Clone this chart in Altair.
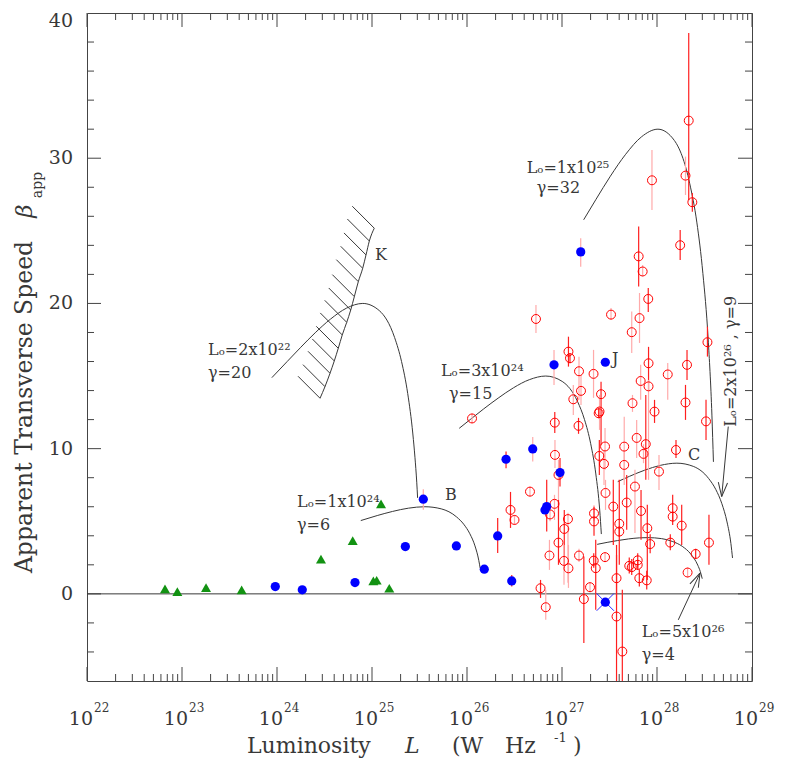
import altair as alt
import pandas as pd

# ------------------------------------------------------------------ data
# red open circles: log10 L, beta_app, error bar low / high, bar style
red_logL = [28.334, 27.947, 28.300, 28.372, 28.244, 27.807, 27.849, 27.908, 27.516, 26.726,
            27.816, 27.734, 28.531, 27.068, 27.084, 27.179, 27.332, 27.911, 28.113, 28.316,
            27.828, 27.911, 27.200, 27.411, 27.119, 27.742, 28.300, 27.974, 27.395, 27.386,
            28.516, 26.924, 27.174, 26.053, 27.786, 27.453, 27.882, 27.655, 28.200, 27.393,
            27.858, 26.926, 27.442, 27.655, 26.963, 28.021, 26.663, 27.768, 27.458, 27.540,
            27.681, 27.832, 28.165, 28.165, 28.260, 26.458, 26.500, 26.921, 26.874, 27.063,
            27.024, 27.337, 27.337, 27.603, 27.603, 27.898, 27.928, 28.140, 28.547, 28.407,
            26.963, 26.868, 27.179, 27.453, 27.334, 27.355, 27.021, 27.068, 27.708, 27.797,
            27.797, 27.734, 27.814, 27.892, 27.574, 28.322, 26.774, 27.295, 26.829, 27.230,
            27.574, 27.635]
red_beta = [32.59, 28.48, 28.80, 26.97, 24.01, 23.24, 22.20, 20.31, 19.23, 18.93,
            18.99, 18.02, 17.33, 16.68, 16.23, 15.33, 15.15, 15.88, 15.11, 15.77,
            14.66, 14.29, 13.98, 13.75, 13.40, 13.13, 13.18, 12.55, 12.56, 12.44,
            11.88, 11.79, 11.57, 12.08, 10.74, 10.15, 10.31, 10.14, 9.91, 9.50,
            9.64, 9.57, 8.95, 8.88, 8.19, 8.42, 7.04, 7.39, 6.95, 6.01,
            6.29, 5.71, 5.90, 5.32, 4.70, 5.78, 5.09, 6.20, 5.47, 5.15,
            4.47, 5.54, 4.99, 4.83, 4.29, 4.52, 3.43, 3.53, 3.53, 2.75,
            3.53, 2.64, 2.64, 2.53, 2.29, 1.77, 2.27, 1.76, 1.93, 2.31,
            2.00, 1.84, 1.08, 0.93, 1.08, 1.47, 0.39, 0.46, -0.92, -0.36,
            -1.56, -3.97]
red_lo = [27.10, 26.44, 27.47, 26.32, 22.99, 21.16, 21.85, 19.41, 18.86, 17.97,
          17.28, 16.59, 16.34, 15.65, 15.88, 13.36, 13.50, 14.04, 13.36, 14.73,
          13.36, 7.85, 13.01, 10.26, 12.32, 12.53, 11.98, 11.77, 11.29, 12.09,
          10.60, 11.08, 11.02, 11.73, 9.36, 8.54, 7.85, 7.85, 9.36, 8.19,
          9.00, 8.67, 7.50, 7.50, 5.09, 7.16, 6.69, 4.20, 5.78, 3.37,
          4.41, 3.72, 4.75, 4.97, 3.37, 4.54, 4.74, 5.09, 5.00, 0.76,
          2.00, 5.00, 4.00, 2.00, 3.94, 0.96, 2.80, 3.00, 2.00, 2.40,
          2.00, 1.65, 2.20, 2.18, 1.80, -1.10, 0.62, 0.41, 1.40, 1.80,
          1.65, 1.30, 0.50, 0.30, -0.41, 1.12, -0.28, 0.11, -1.79, -3.39,
          -6.00, -6.00]
red_hi = [38.62, 30.57, 30.11, 27.61, 25.06, 25.29, 22.65, 21.07, 19.69, 19.90,
          20.72, 19.44, 18.40, 17.71, 16.58, 16.32, 16.80, 17.01, 15.90, 16.80,
          15.77, 14.73, 15.08, 14.60, 14.39, 13.70, 14.39, 13.36, 13.70, 12.79,
          13.36, 12.53, 12.12, 12.43, 11.98, 11.43, 13.70, 12.19, 10.60, 10.60,
          10.30, 10.60, 9.91, 9.91, 9.23, 9.57, 7.39, 8.54, 7.85, 7.85,
          8.19, 7.16, 6.82, 5.67, 6.13, 7.02, 5.44, 6.82, 6.00, 5.58,
          5.78, 6.10, 6.00, 7.85, 4.64, 6.13, 4.10, 4.10, 5.44, 3.10,
          6.47, 3.72, 3.10, 2.88, 2.80, 3.72, 3.37, 3.37, 2.50, 2.80,
          2.35, 2.40, 1.70, 1.60, 3.37, 1.82, 0.96, 0.81, 0.28, 2.57,
          2.69, 0.28]
red_bar = list("dlldddldll" "lldddlldld" "llldlldd" "ld" "dddllldldd"
               "llllllllld" "dddddd" "llll" "dldddddddd" "dlllddlldd"
               "dddddldlld" "dd")

# blue filled circles
blue_logL = [23.982, 24.266, 24.821, 25.351, 25.540, 25.888, 26.182, 26.323, 26.411,
             26.471, 26.692, 26.821, 26.839, 26.979, 26.916, 27.456, 27.197]
blue_beta = [0.50, 0.28, 0.78, 3.26, 6.52, 3.30, 1.70, 3.99, 9.27,
             0.89, 9.98, 5.78, 6.01, 8.35, 15.77, 15.95, 23.55]
blue_lo = [0.50, 0.28, 0.78, 3.26, 5.80, 3.30, 1.70, 2.82, 8.65,
           0.50, 9.11, 5.78, 4.29, 7.39, 14.39, 15.95, 22.53]
blue_hi = [0.50, 0.28, 0.78, 3.26, 7.20, 3.30, 1.70, 5.23, 9.80,
           1.30, 10.81, 5.78, 7.85, 9.36, 16.80, 15.95, 24.49]
blue_bar = list("lllllllddd" "ldddlll")
cross_logL = [27.456]
cross_beta = [-0.57]

# green triangles
green_logL = [22.821, 22.951, 23.253, 23.628, 24.463, 24.797, 25.014, 25.049, 25.095, 25.182]
green_beta = [0.34, 0.16, 0.43, 0.28, 2.39, 3.67, 0.90, 0.94, 6.20, 0.39]

# model curves (log10 L, beta_app)
c1_logL = [23.946, 24.107, 24.250, 24.402, 24.563, 24.730, 24.903, 25.076, 25.238, 25.311,
           25.376, 25.430, 25.452, 25.471, 25.480]
c1_beta = [14.89, 16.0, 16.98, 17.98, 18.92, 19.67, 20.0, 19.51, 17.65, 16.0,
           13.79, 11.01, 9.41, 7.69, 6.61]
c2_logL = [24.882, 25.055, 25.216, 25.384, 25.556, 25.729, 25.891, 25.965, 26.030, 26.084,
           26.124, 26.139]
c2_beta = [5.049, 5.393, 5.676, 5.902, 6.0, 5.854, 5.294, 4.8, 4.138, 3.303, 2.308, 1.76]
c3_logL = [25.918, 26.033, 26.176, 26.328, 26.489, 26.656, 26.829, 27.002, 27.164, 27.237,
           27.302, 27.356, 27.397, 27.414]
c3_beta = [11.40, 12.0, 12.74, 13.48, 14.19, 14.75, 15.0, 14.63, 13.24, 12.0,
           10.34, 8.257, 5.769, 4.119]
c4_logL = [27.228, 27.358, 27.509, 27.670, 27.838, 28.010, 28.183, 28.345, 28.419, 28.483,
           28.538, 28.578, 28.594]
c4_beta = [25.76, 27.17, 28.76, 30.27, 31.48, 32.0, 31.22, 28.24, 25.6, 22.07,
           17.61, 12.31, 9.09]
c5_logL = [27.587, 27.709, 27.869, 28.037, 28.209, 28.382, 28.544, 28.618, 28.683, 28.737,
           28.778, 28.795]
c5_beta = [7.731, 8.09, 8.514, 8.852, 9.0, 8.78, 7.941, 7.2, 6.207, 4.954, 3.462, 2.472]
c6_logL = [27.370, 27.475, 27.585, 27.699, 27.815, 27.903, 28.048, 28.160, 28.266, 28.357,
           28.429, 28.456, 28.476]
c6_beta = [3.410, 3.545, 3.671, 3.782, 3.857, 3.873, 3.805, 3.615, 3.273, 2.731,
           1.980, 1.532, 1.045]

# K limit (hatched boundary)
k_logL = [25.024, 24.972, 24.937, 24.902, 24.856, 24.814, 24.776, 24.734, 24.687, 24.645,
          24.603, 24.558, 24.505, 24.453]
k_beta = [25.18, 24.30, 23.34, 22.42, 21.50, 20.47, 19.55, 18.70, 17.83, 16.91,
          16.04, 15.19, 14.27, 13.47]

# arrows: start (log L, beta) -> tip (log L, beta), head angle
arrow_from_logL = [28.750, 28.224]
arrow_from_beta = [11.52, -1.79]
arrow_to_logL = [28.681, 28.453]
arrow_to_beta = [6.70, 1.43]
arrow_angle = [5, 205]

# annotations
ann_text = ["Lₒ=2x10²²", "γ=20", "Lₒ=1x10²⁴", "γ=6", "Lₒ=3x10²⁴", "γ=15",
            "Lₒ=1x10²⁵", "γ=32", "Lₒ=5x10²⁶", "γ=4", "K", "B", "J", "C"]
ann_logL = [23.274, 23.274, 24.211, 24.211, 25.726, 25.811,
            26.628, 26.734, 27.839, 27.839, 25.032, 25.768, 27.526, 28.326]
ann_beta = [16.45, 14.87, 5.99, 4.41, 15.01, 13.43,
            28.95, 27.59, -2.96, -4.54, 23.0, 6.47, 15.83, 9.23]
rot_text = ["Lₒ=2x10²⁶ , γ=9"]
rot_logL = [28.779]
rot_beta = [11.5]

decades = [22, 23, 24, 25, 26, 27, 28, 29]
minor_mult = [2, 3, 4, 5, 6, 7, 8, 9]
y_major = [0, 10, 20, 30, 40]
y_minor = [-4, -2, 2, 4, 6, 8, 12, 14, 16, 18, 22, 24, 26, 28, 32, 34, 36, 38]

# ------------------------------------------------------------------ chart
W, H = 665, 668
FONT = "DejaVu Serif"
INK = "#383838"
AX = "#444444"
xs = alt.Scale(type="log", domain=[1e22, 1e29], nice=False)
ys = alt.Scale(domain=[-6, 40], nice=False, zero=False)


def X(f="L"):
    return alt.X(f"{f}:Q", scale=xs, axis=None)


def Y(f="b"):
    return alt.Y(f"{f}:Q", scale=ys, axis=None)


def L(v):
    return [10.0 ** x for x in v]


red = pd.DataFrame({"L": L(red_logL), "b": red_beta, "lo": red_lo, "hi": red_hi, "bar": red_bar})
blue = pd.DataFrame({"L": L(blue_logL), "b": blue_beta, "lo": blue_lo, "hi": blue_hi, "bar": blue_bar})
green = pd.DataFrame({"L": L(green_logL), "b": green_beta})
cross = pd.DataFrame({"L": L(cross_logL), "b": cross_beta})

rows = []
for name, lx, by in [("c1", c1_logL, c1_beta), ("c2", c2_logL, c2_beta), ("c3", c3_logL, c3_beta),
                     ("c4", c4_logL, c4_beta), ("c5", c5_logL, c5_beta), ("c6", c6_logL, c6_beta),
                     ("k", k_logL, k_beta)]:
    for a, b in zip(lx, by):
        rows.append({"curve": name, "L": 10.0 ** a, "b": b, "o": a})
curves = pd.DataFrame(rows)
hatch = pd.DataFrame({"L": L(k_logL), "b": k_beta})
arrows = pd.DataFrame({"L": L(arrow_from_logL), "b": arrow_from_beta,
                       "L2": L(arrow_to_logL), "b2": arrow_to_beta, "ang": arrow_angle})
ann = pd.DataFrame({"t": ann_text, "L": L(ann_logL), "b": ann_beta})
rot = pd.DataFrame({"t": rot_text, "L": L(rot_logL), "b": rot_beta})

xmaj = pd.DataFrame({"L": [10.0 ** d for d in decades], "e": [str(d) for d in decades]})
xmin = pd.DataFrame({"L": [m * 10.0 ** d for d in decades[:-1] for m in minor_mult]})
ymaj = pd.DataFrame({"b": y_major, "t": [str(v) for v in y_major]})
ymin = pd.DataFrame({"b": y_minor})
zero = pd.DataFrame({"b": [0]})

layers = []

# ticks (inward on all four sides)
for df, size in [(xmaj, 14), (xmin, 7)]:
    base = alt.Chart(df).mark_rule(color=AX, strokeWidth=1)
    layers.append(base.encode(x=X(), y=alt.value(H), y2=alt.value(H - size)))
    layers.append(base.encode(x=X(), y=alt.value(0), y2=alt.value(size)))
for df, size in [(ymaj[ymaj.b < 40], 14), (ymin, 7)]:
    base = alt.Chart(df).mark_rule(color=AX, strokeWidth=1)
    layers.append(base.encode(y=Y(), x=alt.value(0), x2=alt.value(size)))
    layers.append(base.encode(y=Y(), x=alt.value(W), x2=alt.value(W - size)))

# zero line
layers.append(alt.Chart(zero).mark_rule(color=INK, strokeWidth=1).encode(y=Y()))

# model curves and K boundary
layers.append(alt.Chart(curves).mark_line(color=INK, strokeWidth=1, interpolate="monotone").encode(
    x=X(), y=Y(), detail="curve:N", order="o:Q"))
layers.append(alt.Chart(hatch).mark_point(shape="M0,0L-1,-1", size=1936, filled=False, color=INK,
                                          strokeWidth=1, opacity=1).encode(x=X(), y=Y()))

# arrows
layers.append(alt.Chart(arrows).mark_rule(color=INK, strokeWidth=1).encode(
    x=X(), y=Y(), x2=alt.X2("L2:Q"), y2=alt.Y2("b2:Q")))
layers.append(alt.Chart(arrows).mark_point(shape="M0,0L-0.33,-1M0,0L0.33,-1", size=784, filled=False,
                                           color=INK, strokeWidth=1, opacity=1).encode(
    x=X("L2"), y=Y("b2"), angle=alt.Angle("ang:Q", scale=None)))

# error bars
layers.append(alt.Chart(red).mark_rule(strokeWidth=1.2).encode(
    x=X(), y=Y("lo"), y2=alt.Y2("hi:Q"),
    color=alt.Color("bar:N", scale=alt.Scale(domain=["d", "l"], range=["#ff1f1f", "#ffaaaa"]), legend=None)))
layers.append(alt.Chart(blue).mark_rule(strokeWidth=1.2).encode(
    x=X(), y=Y("lo"), y2=alt.Y2("hi:Q"),
    color=alt.Color("bar:N", scale=alt.Scale(domain=["d", "l"], range=["#2a2aff", "#a0a0ff"]), legend=None)))

# points
layers.append(alt.Chart(red).mark_point(shape="circle", filled=False, color="#ff0000", size=80,
                                        strokeWidth=1, opacity=1).encode(x=X(), y=Y()))
layers.append(alt.Chart(blue).mark_point(shape="circle", filled=True, color="#0000ff", size=85,
                                         opacity=1).encode(x=X(), y=Y()))
layers.append(alt.Chart(cross).mark_point(shape="M-1,-1L1,1M-1,1L1,-1", filled=False, color="#2a2aff",
                                          size=300, strokeWidth=1, opacity=1).encode(x=X(), y=Y()))
layers.append(alt.Chart(cross).mark_point(shape="circle", filled=True, color="#0000ff", size=85,
                                          opacity=1).encode(x=X(), y=Y()))
layers.append(alt.Chart(green).mark_point(shape="triangle-up", filled=True, color="#129212", size=100,
                                          opacity=1).encode(x=X(), y=Y()))

# annotations
layers.append(alt.Chart(ann).mark_text(font=FONT, fontSize=16, color=INK, align="left",
                                       baseline="alphabetic").encode(x=X(), y=Y(), text="t:N"))
layers.append(alt.Chart(rot).mark_text(font=FONT, fontSize=16, color=INK, align="left",
                                       baseline="middle", angle=270).encode(x=X(), y=Y(), text="t:N"))

# tick labels
layers.append(alt.Chart(xmaj).mark_text(text="10", font=FONT, fontSize=19, color=INK, align="right",
                                        baseline="alphabetic", dx=6).encode(x=X(), y=alt.value(H + 44)))
layers.append(alt.Chart(xmaj).mark_text(font=FONT, fontSize=12, color=INK, align="left",
                                        baseline="alphabetic", dx=7).encode(x=X(), y=alt.value(H + 31),
                                                                            text="e:N"))
layers.append(alt.Chart(ymaj[ymaj.b < 40]).mark_text(font=FONT, fontSize=19, color=INK, align="right",
                                                     baseline="middle").encode(
    x=alt.value(-14), y=Y(), text="t:N"))
layers.append(alt.Chart(ymaj[ymaj.b == 40]).mark_text(font=FONT, fontSize=19, color=INK, align="right",
                                                      baseline="top", dy=-1).encode(
    x=alt.value(-14), y=Y(), text="t:N"))


def label(text, x, y, **kw):
    opts = dict(font=FONT, color=INK, baseline="alphabetic", align="left")
    opts.update(kw)
    return alt.Chart(pd.DataFrame({"t": [text]})).mark_text(**opts).encode(
        x=alt.value(x), y=alt.value(y), text="t:N")


# axis titles
layers.append(label("Apparent Transverse Speed", -55, 394, angle=270, align="center", fontSize=23.5))
layers.append(label("β", -55, 198, angle=270, align="center", fontSize=23, fontStyle="italic"))
layers.append(label("app", -45, 172, angle=270, align="center", fontSize=14))
layers.append(label("Luminosity", 160, 740, fontSize=22))
layers.append(label("L", 318, 740, fontSize=22, fontStyle="italic"))
layers.append(label("(W", 365, 740, fontSize=22))
layers.append(label("Hz", 418, 740, fontSize=22))
layers.append(label("-1", 467, 729, fontSize=13))
layers.append(label(")", 486, 740, fontSize=22))

chart = alt.layer(*layers).properties(
    width=W, height=H,
    padding={"left": 79, "top": 5, "right": 37, "bottom": 77},
    autosize="none",
).configure_view(stroke=AX, strokeWidth=1)

chart.save("out.html", embed_options={"renderer": "svg", "actions": False})
